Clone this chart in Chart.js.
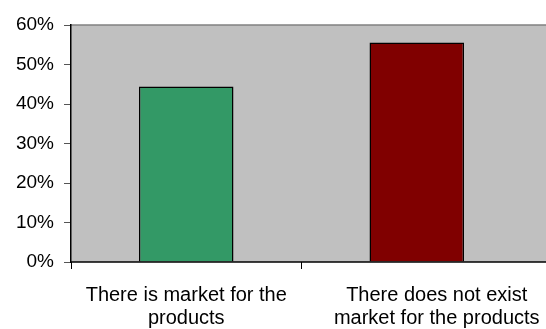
<!DOCTYPE html>
<html>
<head>
<meta charset="utf-8">
<script src="https://cdn.jsdelivr.net/npm/chart.js@4/dist/chart.umd.min.js"></script>
<style>
  html, body { margin: 0; padding: 0; background: #fff; }
  #wrap { width: 546px; height: 329px; position: relative; }
</style>
</head>
<body>
<div id="wrap"><canvas id="chart"></canvas></div>
<script>
const categories = [
  ["There is market for the", "products"],
  ["There does not exist", "market for the products"]
];
const shares = [44.4, 55.6];
const barColors = ["#339966", "#800000"];
const yTicks = [0, 10, 20, 30, 40, 50, 60];

// grey plot area that runs on to the right edge, plus the frame lines
const plotBackground = {
  id: "plotBackground",
  beforeDraw(chart) {
    const { ctx, chartArea: a, width } = chart;
    ctx.save();
    ctx.fillStyle = "#C0C0C0";
    ctx.fillRect(a.left, a.top, width - a.left, a.bottom - a.top);
    ctx.strokeStyle = "#808080";
    ctx.lineWidth = 1.5;
    ctx.beginPath();
    ctx.moveTo(a.left, a.top);
    ctx.lineTo(width, a.top);
    ctx.stroke();
    ctx.restore();
  },
  afterDraw(chart) {
    const { ctx, chartArea: a, width } = chart;
    const x = chart.scales.x;
    ctx.save();
    ctx.strokeStyle = "#000";
    ctx.lineWidth = 1.5;
    ctx.beginPath();
    ctx.moveTo(a.left, a.bottom);
    ctx.lineTo(width, a.bottom);
    ctx.stroke();

    // category labels; Excel pushed the last one towards the right edge
    ctx.fillStyle = "#000";
    ctx.font = "20px 'Liberation Sans'";
    ctx.textAlign = "center";
    ctx.textBaseline = "alphabetic";
    categories.forEach((lines, i) => {
      const cx = x.getPixelForTick(i) + (i === categories.length - 1 ? 20 : 0);
      lines.forEach((t, j) => ctx.fillText(t, cx, a.bottom + 39 + j * 23));
    });
    ctx.restore();
  }
};

new Chart(document.getElementById("chart"), {
  type: "bar",
  data: {
    labels: categories,
    datasets: [{
      data: shares,
      backgroundColor: barColors,
      borderColor: "#000",
      borderWidth: 1.5,
      categoryPercentage: 1,
      barPercentage: 0.41
    }]
  },
  options: {
    responsive: true,
    maintainAspectRatio: false,
    animation: false,
    layout: { padding: { top: 25, right: 14, left: 0, bottom: 0 } },
    plugins: { legend: { display: false }, tooltip: { enabled: false } },
    scales: {
      x: {
        offset: true,
        afterFit(scale) { scale.height = 67; },
        grid: {
          offset: true,
          drawOnChartArea: false,
          tickLength: 7,
          tickWidth: 1,
          // the closing boundary line has no tick context, hide it
          tickColor: (c) => (c.type === "tick" ? "#000" : "rgba(0,0,0,0)")
        },
        border: { display: false },
        ticks: { display: false }
      },
      y: {
        min: 0,
        max: 60,
        afterFit(scale) { scale.width = 71; },
        afterBuildTicks(scale) { scale.ticks = yTicks.map((v) => ({ value: v })); },
        grid: {
          drawOnChartArea: false,
          tickLength: 7,
          tickColor: "#555"
        },
        border: { display: true, color: "#000", width: 1.5 },
        ticks: {
          color: "#000",
          font: { family: "Liberation Sans", size: 19 },
          padding: 10,
          callback: (v) => v + "%"
        }
      }
    }
  },
  plugins: [plotBackground]
});
</script>
</body>
</html>
